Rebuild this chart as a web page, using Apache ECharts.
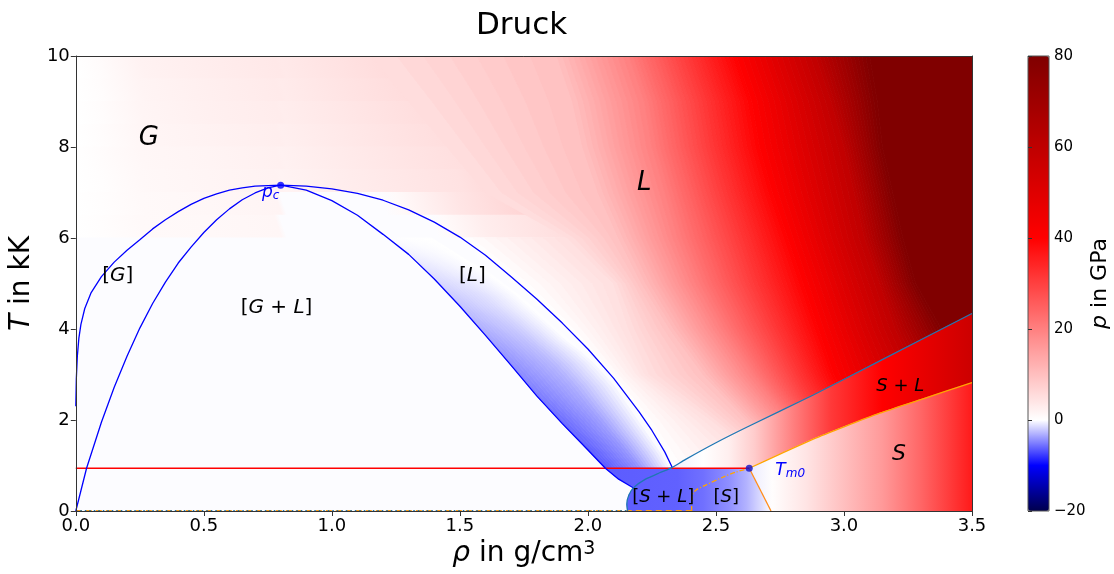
<!DOCTYPE html>
<html>
<head>
<meta charset="utf-8">
<script src="https://cdn.jsdelivr.net/npm/echarts@6/dist/echarts.min.js"></script>
<style>
  html, body { margin: 0; padding: 0; background: #fff; }
  #chart { width: 1114px; height: 574px; }
</style>
</head>
<body>
<div id="chart"></div>
<script>
// Druck: pressure over the rho-T plane with the phase boundaries on top
var FONT = 'DejaVu Sans';

// low-pressure field, one row per 0.5 kK, [rho, p] read along the row centre
var bgRowT = [9.75, 9.25, 8.75, 8.25, 7.75, 7.25, 6.75, 6.25, 5.75, 5.25, 4.75, 4.25, 3.75, 3.25, 2.75, 2.25, 1.75, 1.25, 0.75, 0.25];
var bgRows = [
  [[0,0],[0.1,0.6],[0.26,2.0],[0.52,2.8],[0.79,3.6],[0.81,3.4],[1.04,4.5],[1.5,7],[1.89,10],[3.5,10]],
  [[0,0],[0.1,0.5],[0.26,1.8],[0.52,2.5],[0.79,3.3],[0.81,3.1],[1.04,4.2],[1.5,6.5],[1.91,10],[3.5,10]],
  [[0,0],[0.1,0.5],[0.26,1.6],[0.52,2.3],[0.79,3.0],[0.81,2.8],[1.04,3.8],[1.5,6],[1.93,10],[3.5,10]],
  [[0,0],[0.1,0.4],[0.26,1.4],[0.52,2.0],[0.79,2.7],[0.81,2.5],[1.04,3.5],[1.5,5.5],[1.96,10],[3.5,10]],
  [[0,0],[0.1,0.4],[0.26,1.2],[0.52,1.7],[0.79,2.3],[0.81,2.2],[1.04,3.1],[1.5,5],[1.99,10],[3.5,10]],
  [[0,0],[0.1,0.3],[0.26,1.1],[0.52,1.5],[0.79,2.0],[0.81,1.9],[1.04,2.8],[1.5,4.5],[2.02,10],[3.5,10]],
  [[0,0],[0.1,0.3],[0.26,1.0],[0.52,1.3],[0.79,1.7],[0.81,-0.1],[1.2,-0.1],[1.26,0.8],[1.5,4],[2.06,10],[3.5,10]],
  [[0,0],[0.1,0.3],[0.26,0.9],[0.52,1.1],[0.79,1.4],[0.81,-0.1],[1.4,-0.1],[1.45,0.8],[1.6,2.8],[2.0,6],[2.12,10],[3.5,10]],
  [[0,-0.1],[1.55,-0.1],[1.58,0.2],[2.0,5],[2.15,10],[3.5,10]],
  [[0,-0.1],[1.67,-0.1],[1.7,0.2],[2.0,4],[2.19,10],[3.5,10]],
  [[0,-0.1],[1.77,-0.1],[1.8,0.2],[2.0,3],[2.24,10],[3.5,10]],
  [[0,-0.1],[1.87,-0.1],[1.9,0.2],[2.05,2.5],[2.3,10],[3.5,10]],
  [[0,-0.1],[1.96,-0.1],[1.99,0.2],[2.1,2],[2.35,10],[3.5,10]],
  [[0,-0.1],[2.04,-0.1],[2.07,0.2],[2.2,3.5],[2.42,10],[3.5,10]],
  [[0,-0.1],[2.11,-0.1],[2.14,0.2],[2.3,4],[2.5,12],[3.5,12]],
  [[0,-0.1],[2.17,-0.1],[2.2,0.2],[2.36,3.6],[2.5,8],[3.5,8]],
  [[0,-0.1],[2.23,-0.1],[2.26,0],[2.4,1],[2.55,5],[3.5,5]],
  [[0,-0.1],[2.28,-0.1],[2.3,-0.3],[2.45,-0.3],[2.6,1],[2.7,5],[3.5,5]],
  [[0,-0.1],[3.5,-0.1]],
  [[0,-0.1],[3.5,-0.1]]
];
var ROW_TILT = -0.06; // rho shift of the row isolines per kK

// liquid field: rho of each isobar at the listed temperatures
var isoT = [10, 9, 8, 7, 6, 5, 4, 3, 2, 1];
var isoLevels = [5, 10, 20, 30, 40, 60, 80];
var isoX = [
  [1.15, 1.30, 1.45, 1.60, 1.92, 2.10, 2.16, 2.24, 2.48, 2.70],
  [1.88, 1.94, 1.98, 2.04, 2.12, 2.21, 2.32, 2.45, 2.62, 2.80],
  [2.16, 2.22, 2.25, 2.30, 2.35, 2.42, 2.52, 2.64, 2.78, 2.90],
  [2.37, 2.43, 2.46, 2.51, 2.57, 2.63, 2.71, 2.80, 2.90, 3.00],
  [2.58, 2.64, 2.67, 2.72, 2.78, 2.84, 2.90, 2.96, 3.05, 3.10],
  [2.89, 2.95, 3.00, 3.04, 3.08, 3.14, 3.20, 3.28, 3.35, 3.40],
  [3.10, 3.13, 3.15, 3.19, 3.23, 3.28, 3.38, 3.50, 3.60, 3.70]
];
var NEAR_T_MAX = 6; // below this the liquid side of the binodal sits at p = 0

// metastable liquid band between spinodal and binodal:
// p on the spinodal, p halfway across, rho where p is back to 0
var bandT = [0.94, 1.25, 1.5, 1.75, 2.0, 2.25, 2.5, 2.75, 3.0, 3.25, 3.5, 3.75, 4.0, 4.25, 4.5, 4.75, 5.0, 5.25, 5.5, 5.75, 6.0];
var bandP = [-6.6, -6.4, -6.2, -6.0, -5.8, -5.5, -5.2, -4.9, -4.6, -4.3, -4.0, -3.6, -3.2, -2.8, -2.4, -2.0, -1.6, -1.2, -0.8, -0.4, -0.1];
var bandMidP = [-4.4, -4.2, -4.1, -3.9, -3.8, -3.6, -3.4, -3.2, -3.0, -2.8, -2.5, -2.3, -2.0, -1.7, -1.4, -1.2, -0.9, -0.6, -0.4, -0.2, 0];
var bandZeroX = [2.33, 2.30, 2.27, 2.24, 2.21, 2.18, 2.15, 2.12, 2.08, 2.04, 1.99, 1.93, 1.88, 1.83, 1.78, 1.73, 1.67, 1.61, 1.53, 1.46, 1.39];

// p across the solid-side regions, [rho, p]
var blobGrad = [[2.05,-6.4],[2.35,-6.2],[2.45,-5.6],[2.55,-4.4],[2.62,-3],[2.68,-1.3],[2.72,0]];
var slGrad = [[2.33,-0.6],[2.45,0],[2.55,2.5],[2.65,8],[2.8,20],[2.95,31],[3.15,40],[3.3,47],[3.5,56]];
var sGrad = [[2.63,-0.8],[2.72,0.3],[2.85,4],[3.0,10],[3.15,16],[3.3,24],[3.5,36]];

// phase boundaries [rho, T]
var binodal = [[0,2.3],[0.002,2.9],[0.006,3.4],[0.012,3.8],[0.02,4.1],[0.035,4.45],[0.06,4.8],[0.1,5.15],[0.15,5.47],[0.2,5.73],[0.25,5.96],[0.3,6.2],[0.35,6.4],[0.4,6.58],[0.45,6.74],[0.5,6.87],[0.55,6.97],[0.6,7.05],[0.65,7.1],[0.7,7.14],
  [0.8,7.16],[0.9,7.14],[1.0,7.08],[1.1,6.98],[1.2,6.83],[1.3,6.62],[1.4,6.35],[1.5,6.02],[1.6,5.62],[1.7,5.15],[1.8,4.66],[1.9,4.13],[2.0,3.56],[2.1,2.92],[2.2,2.18],[2.25,1.77],[2.3,1.3],[2.33,0.95]];
var spinodal = [[0,0],[0.042,0.94],[0.1,1.95],[0.15,2.72],[0.2,3.4],[0.25,4.02],[0.3,4.56],[0.35,5.03],[0.4,5.45],[0.45,5.8],[0.5,6.12],[0.55,6.4],[0.6,6.64],[0.65,6.84],[0.7,6.99],[0.75,7.1],
  [0.8,7.16],[0.9,7.05],[1.0,6.82],[1.1,6.5],[1.2,6.08],[1.3,5.64],[1.4,5.1],[1.5,4.5],[1.6,3.86],[1.7,3.2],[1.8,2.53],[1.9,1.92],[2.0,1.34],[2.068,0.94],[2.12,0.7],[2.18,0.5]];
var liquidus = [[2.155,0],[2.152,0.15],[2.16,0.35],[2.18,0.52],[2.225,0.7],[2.28,0.84],[2.33,0.96],[2.38,1.13],[2.5,1.5],[2.62,1.84],[2.88,2.55],[3.14,3.3],[3.5,4.34]];
var solidus = [[2.63,0.94],[2.75,1.25],[2.88,1.58],[3.0,1.85],[3.14,2.15],[3.3,2.45],[3.5,2.82]];
var solidusLow = [[2.405,0],[2.405,0.3],[2.42,0.45],[2.46,0.57],[2.53,0.75],[2.58,0.86],[2.63,0.94]];
var meltDown = [[2.63,0.94],[2.715,0]];
var tripleLine = [[0,0.94],[2.63,0.94]];
var baseOrange = [[0,0.01],[2.405,0.01]];
var baseBlue = [[0,0.01],[2.155,0.01]];
var critPoint = [[0.8,7.16]];
var meltPoint = [[2.63,0.94]];

var cbTicks = [-20, -10, 0, 10, 20, 30, 40, 50, 60, 70, 80];

// seismic colormap, centred on 0 between -20 and 80
var SEISMIC = [[0,0,0,76.5],[0.25,0,0,255],[0.5,255,255,255],[0.75,255,0,0],[1,127.5,0,0]];
function pColor(p) {
  var t = p < 0 ? 0.5 * (p + 20) / 20 : 0.5 + 0.5 * p / 80;
  t = Math.max(0, Math.min(1, t));
  for (var i = 1; i < SEISMIC.length; i++) {
    if (t <= SEISMIC[i][0]) {
      var a = SEISMIC[i - 1], b = SEISMIC[i], f = (t - a[0]) / (b[0] - a[0]);
      return 'rgb(' + [1, 2, 3].map(function (k) { return Math.round(a[k] + (b[k] - a[k]) * f); }).join(',') + ')';
    }
  }
  return 'rgb(128,0,0)';
}

// gradient through [rho, p] stops at level t, isolines tilted by `tilt` rho per kK
function fieldGradient(api, pairs, t, tilt) {
  var px = pairs.map(function (d) { return api.coord([d[0], t]); });
  var p0 = px[0], span = px[px.length - 1][0] - p0[0];
  var q = api.coord([pairs[0][0] + (tilt || 0), t + 1]);
  var ux = q[0] - p0[0], uy = q[1] - p0[1], len = Math.sqrt(ux * ux + uy * uy);
  var gx = -uy / len, gy = ux / len;
  if (gx < 0) { gx = -gx; gy = -gy; }
  var L = span * gx;
  var stops = pairs.map(function (d, i) { return { offset: (px[i][0] - p0[0]) / span, color: pColor(d[1]) }; });
  return new echarts.graphic.LinearGradient(p0[0], p0[1], p0[0] + gx * L, p0[1] + gy * L, stops, true);
}

function peakIndex(curve) {
  var k = 0;
  curve.forEach(function (d, i) { if (d[1] > curve[k][1]) k = i; });
  return k;
}
var spinR = spinodal.slice(peakIndex(spinodal));
var binR = binodal.slice(peakIndex(binodal));

function xAtT(branch, t) {
  for (var i = 1; i < branch.length; i++) {
    var a = branch[i - 1], b = branch[i];
    if ((t - a[1]) * (t - b[1]) <= 0) {
      var f = a[1] === b[1] ? 0 : (t - a[1]) / (b[1] - a[1]);
      return a[0] + (b[0] - a[0]) * f;
    }
  }
  return t > branch[0][1] ? branch[0][0] : branch[branch.length - 1][0];
}

// thin strips between neighbouring isobars, each painted at its own pressure
var isoStrips = [];
function addStrips(ts, xa, xb, pa, pb, step) {
  var n = Math.ceil((pb - pa) / step);
  for (var j = 0; j < n; j++) {
    isoStrips.push({ ts: ts, xa: xa, xb: xb, f0: j / n, f1: (j + 1) / n, p: pa + (j + 0.5) / n * (pb - pa) });
  }
}
var nearT = isoT.filter(function (t) { return t <= NEAR_T_MAX; });
addStrips(nearT, nearT.map(function (t) { return xAtT(binR, t); }), isoX[0].slice(isoT.length - nearT.length), 0, isoLevels[0], 0.6);
for (var k = 0; k + 1 < isoLevels.length; k++) {
  addStrips(isoT, isoX[k], isoX[k + 1], isoLevels[k], isoLevels[k + 1], isoLevels[k + 1] <= 40 ? 0.8 : 1.5);
}
isoStrips.push({ ts: isoT, xa: isoX[isoX.length - 1], xb: isoT.map(function () { return 3.6; }), f0: 0, f1: 1, p: 80 });

// strips running along the spinodal across the band
var BAND_STRIPS = 24;
var bandStrips = [];
for (var s = 0; s < BAND_STRIPS; s++) bandStrips.push([s / BAND_STRIPS, (s + 1) / BAND_STRIPS]);
function bandPressure(k, f) {
  return f < 0.5 ? bandP[k] + (bandMidP[k] - bandP[k]) * f * 2 : bandMidP[k] * (2 - 2 * f);
}

// region outlines built from the boundary curves
var blobPts = liquidus.filter(function (d) { return d[1] <= 0.52; })
  .concat(spinR.filter(function (d) { return d[1] > 0.52 && d[1] <= 0.94; }).reverse())
  .concat([tripleLine[1], meltDown[1]]);
var slPts = liquidus.filter(function (d) { return d[1] >= 0.96; }).concat(solidus.slice().reverse());
var sPts = solidus.concat([[3.5, 0], meltDown[1]]);
var regions = [[blobPts, blobGrad], [slPts, slGrad], [sPts, sGrad]];

var notes = [
  { x: 0.285, y: 8.2, text: '{i|G}', size: 26 },
  { x: 2.22, y: 7.21, text: '{i|L}', size: 26 },
  { x: 0.164, y: 5.16, text: '[{i|G}]', size: 20 },
  { x: 0.784, y: 4.46, text: '[{i|G} + {i|L}]', size: 20 },
  { x: 1.549, y: 5.16, text: '[{i|L}]', size: 20 },
  { x: 3.22, y: 2.75, text: '{i|S} + {i|L}', size: 18 },
  { x: 3.215, y: 1.25, text: '{i|S}', size: 22 },
  { x: 2.294, y: 0.31, text: '[{i|S} + {i|L}]', size: 18 },
  { x: 2.54, y: 0.31, text: '[{i|S}]', size: 18 },
  { x: 0.761, y: 6.99, text: '{i|p}{sub|c}', size: 17, color: '#0000ff' },
  { x: 2.79, y: 0.88, text: '{i|T}{sub|m0}', size: 17, color: '#0000ff' }
];

function lineSeries(data, color, width, type, smooth) {
  return {
    type: 'line', data: data, xAxisIndex: 0, yAxisIndex: 0, symbol: 'none', clip: true, silent: true, z: 5,
    smooth: smooth || false,
    lineStyle: { color: color, width: width, type: type || 'solid' }, emphasis: { disabled: true }
  };
}

var chart = echarts.init(document.getElementById('chart'));
var axisColor = '#333';

var option = {
  animation: false,
  backgroundColor: '#fff',
  title: {
    text: 'Druck', left: 471, top: 5,
    textStyle: { fontSize: 31, fontWeight: 'normal', color: '#000', fontFamily: FONT }
  },
  grid: [
    { left: 75, top: 56, width: 897, height: 455 },
    { left: 1028, top: 56, width: 21, height: 455, show: true, borderColor: '#555', borderWidth: 1, backgroundColor: 'transparent', z: 10 }
  ],
  xAxis: [
    {
      gridIndex: 0, type: 'value', min: 0, max: 3.5, interval: 0.5, z: 10,
      axisLine: { show: true, onZero: false, lineStyle: { color: axisColor, width: 1 } },
      axisTick: { show: true, length: 5, lineStyle: { color: axisColor } },
      axisLabel: { fontSize: 18, color: '#000', fontFamily: FONT, margin: 6, formatter: function (v) { return v.toFixed(1); } },
      splitLine: { show: false },
      name: '{i|ρ} in g/cm{sup|3}', nameLocation: 'middle', nameGap: 27,
      nameTextStyle: { fontSize: 28, color: '#000', fontFamily: FONT,
        rich: { i: { fontStyle: 'italic', fontSize: 28, fontFamily: FONT }, sup: { fontSize: 19, fontFamily: FONT, verticalAlign: 'top' } } }
    },
    {
      gridIndex: 0, type: 'value', min: 0, max: 3.5, position: 'top', z: 10,
      axisLine: { show: true, onZero: false, lineStyle: { color: axisColor, width: 1 } },
      axisTick: { show: false }, axisLabel: { show: false }, splitLine: { show: false }
    },
    { gridIndex: 1, type: 'value', min: 0, max: 1, show: false }
  ],
  yAxis: [
    {
      gridIndex: 0, type: 'value', min: 0, max: 10, interval: 2, z: 10,
      axisLine: { show: true, onZero: false, lineStyle: { color: axisColor, width: 1 } },
      axisTick: { show: true, length: 5, lineStyle: { color: axisColor } },
      axisLabel: { fontSize: 18, color: '#000', fontFamily: FONT, margin: 6 },
      splitLine: { show: false },
      name: '{i|T} in kK', nameLocation: 'middle', nameGap: 36, nameRotate: 90,
      nameTextStyle: { fontSize: 28, color: '#000', fontFamily: FONT,
        rich: { i: { fontStyle: 'italic', fontSize: 28, fontFamily: FONT } } }
    },
    {
      gridIndex: 0, type: 'value', min: 0, max: 10, position: 'right', z: 10,
      axisLine: { show: true, onZero: false, lineStyle: { color: axisColor, width: 1 } },
      axisTick: { show: false }, axisLabel: { show: false }, splitLine: { show: false }
    },
    {
      gridIndex: 1, type: 'value', min: -20, max: 80, interval: 20, position: 'right', z: 10,
      axisLine: { show: false },
      axisTick: { show: true, length: 4, lineStyle: { color: axisColor } },
      axisLabel: { fontSize: 15, color: '#000', fontFamily: FONT, margin: 5,
        formatter: function (v) { return v < 0 ? '\u2212' + Math.abs(v) : String(v); } },
      splitLine: { show: false },
      name: '{i|p} in GPa', nameLocation: 'middle', nameGap: 40, nameRotate: 90,
      nameTextStyle: { fontSize: 22, color: '#000', fontFamily: FONT,
        rich: { i: { fontStyle: 'italic', fontSize: 22, fontFamily: FONT } } }
    }
  ],
  visualMap: {
    type: 'continuous', min: -20, max: 80, seriesIndex: [], calculable: false, hoverLink: false,
    orient: 'vertical', left: 1028, top: 56, itemWidth: 21, itemHeight: 455, padding: 0,
    inRange: { color: cbTicks.map(pColor) }
  },
  series: [
    {
      type: 'custom', name: 'field rows', xAxisIndex: 0, yAxisIndex: 0, clip: true, silent: true, z: 1,
      data: bgRowT.map(function (t) { return [0, t]; }), encode: { x: 0, y: 1 },
      renderItem: function (params, api) {
        var i = params.dataIndex, t = bgRowT[i];
        var a = api.coord([0, t + 0.25]), b = api.coord([3.5, t - 0.25]);
        return { type: 'rect', shape: { x: a[0], y: a[1] - 0.5, width: b[0] - a[0], height: b[1] - a[1] + 1 },
          style: { fill: fieldGradient(api, bgRows[i], t, ROW_TILT) } };
      }
    },
    {
      type: 'custom', name: 'isobars', xAxisIndex: 0, yAxisIndex: 0, clip: true, silent: true, z: 2,
      data: isoStrips.map(function (s) { return [s.xa[0], s.ts[0]]; }), encode: { x: 0, y: 1 },
      renderItem: function (params, api) {
        var s = isoStrips[params.dataIndex];
        var left = [], right = [];
        s.ts.forEach(function (t, m) {
          var w = s.xb[m] - s.xa[m];
          left.push(api.coord([s.xa[m] + s.f0 * w, t]));
          right.push(api.coord([s.xa[m] + s.f1 * w, t]));
        });
        var c = pColor(s.p);
        return { type: 'polygon', shape: { points: left.concat(right.reverse()) }, style: { fill: c, stroke: c, lineWidth: 0.8 } };
      }
    },
    {
      type: 'custom', name: 'band', xAxisIndex: 0, yAxisIndex: 0, clip: true, silent: true, z: 2,
      data: bandStrips.map(function () { return [xAtT(spinR, bandT[0]), bandT[0]]; }), encode: { x: 0, y: 1 },
      renderItem: function (params, api) {
        var f = bandStrips[params.dataIndex], fm = (f[0] + f[1]) / 2;
        var left = [], right = [];
        bandT.forEach(function (t, k) {
          var xin = xAtT(spinR, t), w = bandZeroX[k] - xin;
          left.push(api.coord([xin + f[0] * w, t]));
          right.push(api.coord([xin + f[1] * w, t]));
        });
        var yTop = api.coord([0, bandT[bandT.length - 1]])[1], yBot = api.coord([0, bandT[0]])[1];
        var stops = [];
        for (var k = bandT.length - 1; k >= 0; k--) {
          stops.push({ offset: (api.coord([0, bandT[k]])[1] - yTop) / (yBot - yTop), color: pColor(bandPressure(k, fm)) });
        }
        var fill = new echarts.graphic.LinearGradient(0, yTop, 0, yBot, stops, true);
        return { type: 'polygon', shape: { points: left.concat(right.reverse()) }, style: { fill: fill, stroke: fill, lineWidth: 0.8 } };
      }
    },
    {
      type: 'custom', name: 'regions', xAxisIndex: 0, yAxisIndex: 0, clip: true, silent: true, z: 3,
      data: regions.map(function (r) { return r[0][0]; }), encode: { x: 0, y: 1 },
      renderItem: function (params, api) {
        var r = regions[params.dataIndex];
        var fill = fieldGradient(api, r[1], 0, 0);
        return { type: 'polygon', shape: { points: r[0].map(function (d) { return api.coord(d); }) },
          style: { fill: fill, stroke: fill, lineWidth: 0.8 } };
      }
    },
    lineSeries(baseOrange, '#ff9f1a', 1.2, [6, 4]),
    lineSeries(baseBlue, '#1f77b4', 1.2, [1.5, 3]),
    lineSeries(tripleLine, '#ff0000', 1.4),
    lineSeries(binodal, '#0000ff', 1.3),
    lineSeries(spinodal, '#0000ff', 1.3),
    lineSeries(liquidus, '#1f77b4', 1.3, 'solid', 0.2),
    lineSeries(solidus, '#ffa500', 1.3, 'solid', 0.2),
    lineSeries(solidusLow, '#ffa500', 1.3, [5, 2, 1, 2], 0.3),
    lineSeries(meltDown, '#ff8c1a', 1.3),
    {
      type: 'scatter', data: critPoint, symbolSize: 7, xAxisIndex: 0, yAxisIndex: 0, z: 6, silent: true,
      itemStyle: { color: '#0000ff' }
    },
    {
      type: 'scatter', data: meltPoint, symbolSize: 7, xAxisIndex: 0, yAxisIndex: 0, z: 6, silent: true,
      itemStyle: { color: '#1010c8' }
    },
    {
      type: 'custom', name: 'notes', xAxisIndex: 0, yAxisIndex: 0, clip: false, silent: true, z: 7,
      data: notes.map(function (n) { return [n.x, n.y]; }), encode: { x: 0, y: 1 },
      renderItem: function (params, api) {
        var n = notes[params.dataIndex], c = api.coord([n.x, n.y]), col = n.color || '#000';
        return {
          type: 'text', x: c[0], y: c[1],
          style: {
            text: n.text, fontSize: n.size, fontFamily: FONT, fill: col, align: 'center', verticalAlign: 'middle',
            rich: {
              i: { fontStyle: 'italic', fontSize: n.size, fontFamily: FONT, fill: col },
              sub: { fontStyle: 'italic', fontSize: Math.round(n.size * 0.7), fontFamily: FONT, fill: col, verticalAlign: 'bottom' }
            }
          }
        };
      }
    }
  ]
};

chart.setOption(option);
</script>
</body>
</html>
